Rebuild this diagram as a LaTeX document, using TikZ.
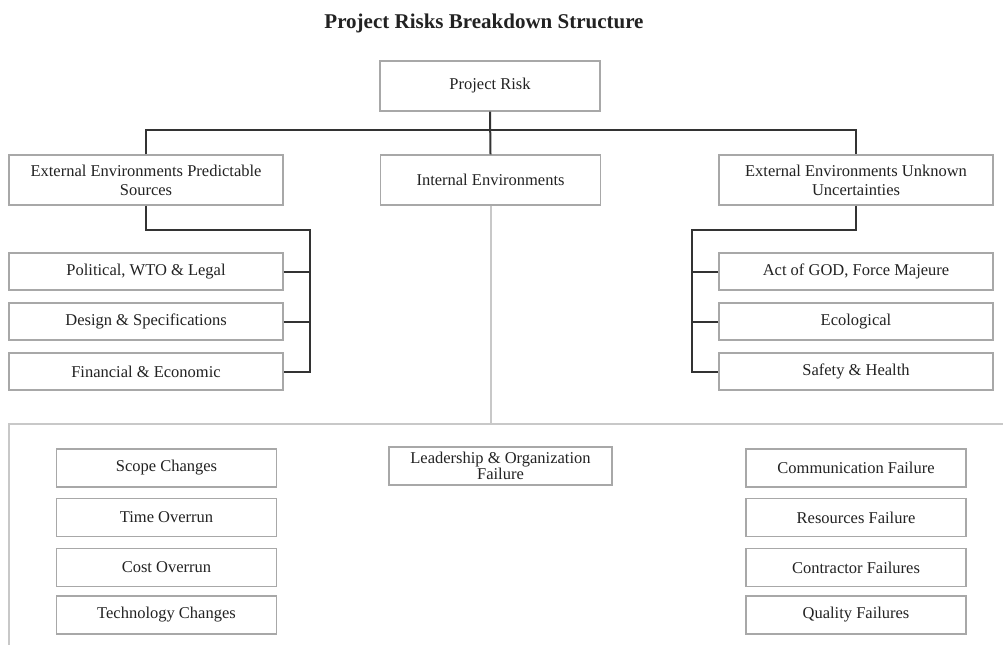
\documentclass[tikz,border=0pt]{standalone}
\usepackage{fontspec}
\setmainfont{Liberation Serif}
\definecolor{boxgray}{HTML}{A8A8A8}
\definecolor{linkcol}{HTML}{333333}
\definecolor{framegray}{HTML}{C8C8C8}
\definecolor{txt}{HTML}{222222}
\begin{document}
\begin{tikzpicture}[x=1pt,y=-1pt,
  box/.style={draw=boxgray,line width=1.3pt,fill=white,inner sep=0pt,align=center,text=txt,
    font=\fontsize{16.5}{19}\selectfont},
  bigbox/.style={box,minimum width=274pt,minimum height=50pt},
  midbox/.style={box,minimum width=220pt,minimum height=50pt},
  subbox/.style={box,minimum width=274pt,minimum height=37pt},
  lowbox/.style={box,minimum width=220pt,minimum height=38pt},
  link/.style={draw=linkcol,line width=2pt},
  faint/.style={draw=framegray,line width=2pt}]
\useasboundingbox (0,0) rectangle (1003,645);
\fill[white] (0,0) rectangle (1003,645);

\node[text=txt,font=\fontsize{21}{24}\bfseries] (title) at (484,23) {Project Risks Breakdown Structure};

\node[midbox] (top) at (490,86) {Project Risk};
\node[bigbox] (ext) at (146,180) {External Environments Predictable\\Sources};
\node[midbox] (int) at (490.5,180) {Internal Environments};
\node[bigbox] (unk) at (856,180) {External Environments Unknown\\Uncertainties};

\node[subbox] (pol) at (146,271.5) {Political, WTO \& Legal};
\node[subbox] (des) at (146,321.5) {Design \& Specifications};
\node[subbox] (fin) at (146,371.5) {Financial \& Economic};

\node[subbox] (god) at (856,271.5) {Act of GOD, Force Majeure};
\node[subbox] (eco) at (856,321.5) {Ecological};
\node[subbox] (saf) at (856,371.5) {Safety \& Health};

\node[lowbox] (scope) at (166.5,468) {Scope Changes};
\node[lowbox] (time) at (166.5,517.5) {Time Overrun};
\node[lowbox] (cost) at (166.5,567.5) {Cost Overrun};
\node[lowbox] (tech) at (166.5,615) {Technology Changes};

\node[lowbox,minimum width=223pt,font=\fontsize{16.5}{16.5}\selectfont] (lead) at (500.5,466) {Leadership \& Organization\\Failure};

\node[lowbox] (comm) at (856,468) {Communication Failure};
\node[lowbox] (res) at (856,517.5) {Resources Failure};
\node[lowbox] (contr) at (856,567.5) {Contractor Failures};
\node[lowbox] (qual) at (856,615) {Quality Failures};

% top level connectors
\draw[link] (top.south) -- (int.north);
\draw[link] (ext.north) -- (ext.north |- 0,130) -- (unk.north |- 0,130) -- (unk.north);

% left branch
\coordinate (lbus) at (310,230);
\draw[link] (ext.south) -- (ext.south |- lbus) -- (lbus) -- (lbus |- fin.east) -- (fin.east);
\draw[link] (pol.east) -- (pol.east -| lbus);
\draw[link] (des.east) -- (des.east -| lbus);

% right branch
\coordinate (rbus) at (692,230);
\draw[link] (unk.south) -- (unk.south |- rbus) -- (rbus) -- (rbus |- saf.west) -- (saf.west);
\draw[link] (god.west) -- (god.west -| rbus);
\draw[link] (eco.west) -- (eco.west -| rbus);

% internal frame
\coordinate (fjoin) at (490.5,424);
\coordinate (fleft) at (9,424);
\coordinate (fright) at (1003,424);
\coordinate (fbottom) at (9,645);
\draw[faint] (int.south) -- (fjoin);
\draw[faint] (fright) -- (fleft) -- (fbottom);
\end{tikzpicture}
\end{document}
